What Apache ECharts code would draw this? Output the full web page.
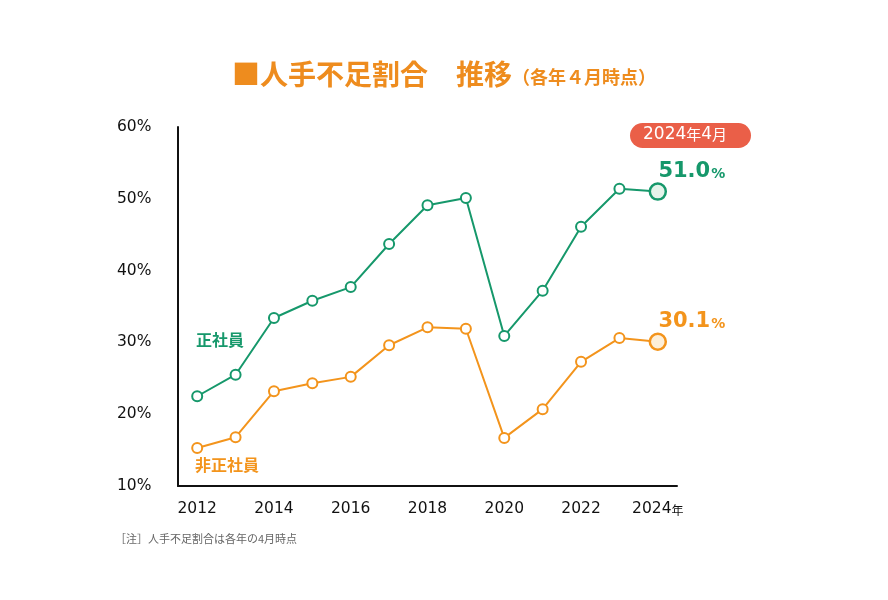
<!DOCTYPE html>
<html><head><meta charset="utf-8">
<script src="https://cdn.jsdelivr.net/npm/echarts@6/dist/echarts.min.js"></script>
<style>html,body{margin:0;padding:0;background:#fff}#c{width:888px;height:600px}</style>
</head><body><div id="c"></div>
<script>
const years = ['2012','2013','2014','2015','2016','2017','2018','2019','2020','2021','2022','2023','2024'];
const regular = [22.5,25.5,33.4,35.8,37.7,43.7,49.1,50.1,30.9,37.2,46.1,51.4,51.0];
const nonRegular = [15.3,16.8,23.2,24.3,25.2,29.6,32.1,31.9,16.7,20.7,27.3,30.6,30.1];
const yTicks = [10,60,10];
const GREEN = '#16986b', ORANGE = '#f3941c', TITLE = '#ee8c1e';
const F = '"Noto Sans CJK JP", "Noto Sans", sans-serif';
const N = '"DejaVu Sans", "Noto Sans CJK JP", sans-serif';

function mkData(arr, color){
  return arr.map((v,i)=> i===arr.length-1 ? {
    value:v, symbolSize:16,
    itemStyle:{color: color===GREEN?'#e4f3ea':'#fdefd9', borderColor:color, borderWidth:2.5},
    label:{show:true, position:'top', distance:0, offset:[34,0],
      formatter: ()=> '{n|'+v.toFixed(1)+'}{p|%}',
      rich:{n:{fontSize:21,fontWeight:'bold',color:color,fontFamily:N}, p:{fontSize:14,fontWeight:'bold',color:color,fontFamily:N,padding:[4,0,0,1]}}}
  } : v);
}

const chart = echarts.init(document.getElementById('c'));
chart.setOption({
  animation:false,
  grid:{left:178, right:211, top:127, bottom:114},
  xAxis:{type:'category', data:years, boundaryGap:true,
    axisLine:{lineStyle:{color:'#111',width:2}}, axisTick:{show:false},
    axisLabel:{interval:1, margin:15, color:'#111', fontSize:15.5, fontFamily:N,
      formatter:(v)=> v==='2024' ? v+'{s|年}' : v,
      rich:{s:{fontSize:12,color:'#111',fontFamily:F,padding:[3,0,0,0]}}}},
  yAxis:{type:'value', min:yTicks[0], max:yTicks[1], interval:yTicks[2],
    axisLine:{show:true, lineStyle:{color:'#111',width:2}}, axisTick:{show:false}, splitLine:{show:false},
    axisLabel:{formatter:'{value}%', align:'left', margin:61, color:'#111', fontSize:15.5, fontFamily:N}},
  series:[
    {type:'line', name:'正社員', data:mkData(regular,GREEN), symbol:'circle', symbolSize:10,
     lineStyle:{color:GREEN,width:2}, itemStyle:{color:'#fff',borderColor:GREEN,borderWidth:2}},
    {type:'line', name:'非正社員', data:mkData(nonRegular,ORANGE), symbol:'circle', symbolSize:10,
     lineStyle:{color:ORANGE,width:2}, itemStyle:{color:'#fff',borderColor:ORANGE,borderWidth:2}}
  ],
  graphic:[
    {type:'text', left:'center', top:60, style:{text:'{a|■人手不足割合　推移}{b|（各年４月時点）}',
      rich:{a:{fontSize:28,fontWeight:'bold',fill:TITLE,fontFamily:F}, b:{fontSize:18,fontWeight:'bold',fill:TITLE,fontFamily:F,padding:[7,0,0,0]}}}},
    {type:'text', left:196, top:332, style:{text:'正社員', fontSize:16, fontWeight:'bold', fill:GREEN, fontFamily:F}},
    {type:'text', left:195, top:457, style:{text:'非正社員', fontSize:16, fontWeight:'bold', fill:ORANGE, fontFamily:F}},
    {type:'rect', left:630, top:123, shape:{width:121,height:25,r:12.5}, style:{fill:'#ea5f48'}},
    {type:'text', left:643, top:126, style:{text:'{d|2024}{k|年}{d|4}{k|月}',
      rich:{d:{fontSize:17,fill:'#fff',fontFamily:N}, k:{fontSize:15,fill:'#fff',fontFamily:F}}}},
    {type:'text', left:115, top:533, style:{text:'［注］人手不足割合は各年の4月時点', fontSize:11, fill:'#666', fontFamily:F}}
  ]
});
</script></body></html>
